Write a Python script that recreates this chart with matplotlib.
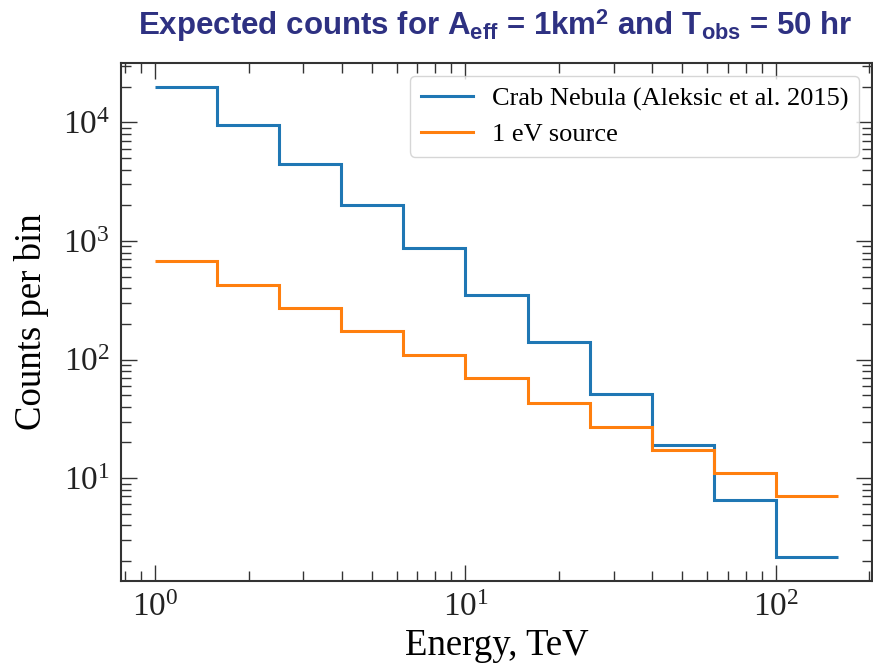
import matplotlib
matplotlib.use("Agg")
import matplotlib.pyplot as plt
from matplotlib import font_manager

# bin edges in TeV (0.2 dex bins)
energy_edges = [1.0, 1.585, 2.512, 3.981, 6.31, 10.0, 15.85, 25.12, 39.81, 63.1, 100.0, 158.5]
crab_counts = [20100, 9600, 4500, 2030, 877, 352, 141, 51, 19, 6.5, 2.14]
ev_counts = [680, 427, 273, 175, 109, 70, 43, 27, 17.2, 11.0, 7.0]

names = {f.name for f in font_manager.fontManager.ttflist}
title_font = "Liberation Sans Narrow" if "Liberation Sans Narrow" in names else "Liberation Sans"

plt.rcParams['font.family'] = ['Liberation Serif', 'DejaVu Serif']
plt.rcParams['mathtext.fontset'] = 'custom'
plt.rcParams['mathtext.rm'] = 'Liberation Serif'
plt.rcParams['mathtext.it'] = 'Liberation Serif:italic'
plt.rcParams['mathtext.sf'] = title_font + ':bold'

fig = plt.figure(figsize=(8.73, 6.66), dpi=100)
ax = fig.add_axes([0.1386, 0.1276, 0.8603, 0.7778])

ax.stairs(crab_counts, energy_edges, color='#1f77b4', lw=2.2, baseline=None,
          label='Crab Nebula (Aleksic et al. 2015)')
ax.stairs(ev_counts, energy_edges, color='#ff7f0e', lw=2.2, baseline=None,
          label='1 eV source')

ax.set_xscale('log')
ax.set_yscale('log')
ax.autoscale(enable=True)
ax.margins(0.05)

ax.set_xlabel('Energy, TeV', fontsize=26.5, labelpad=4)
ax.set_ylabel('Counts per bin', fontsize=26.5, labelpad=10)

ax.tick_params(which='both', direction='in', top=True, right=True, colors='#333333')
ax.tick_params(which='major', length=11.5, width=1.0, labelsize=24, pad=8,
               labelcolor='#222222')
ax.tick_params(which='minor', length=7, width=1.0)
for s in ax.spines.values():
    s.set_linewidth(1.5)
    s.set_color('#333333')

ax.legend(loc='upper right', fontsize=19, handlelength=2.0, handletextpad=0.7,
          labelspacing=0.45, borderaxespad=0.5)

fig.text(0.567, 0.962,
         r'Expected counts for A$_{\mathsf{eff}}$ = 1km$^{\mathsf{2}}$ and T$_{\mathsf{obs}}$ = 50 hr',
         ha='center', va='center', fontsize=22.5, fontweight='bold',
         family=title_font, color='#2e3182')

fig.savefig('out.png', dpi=100)
